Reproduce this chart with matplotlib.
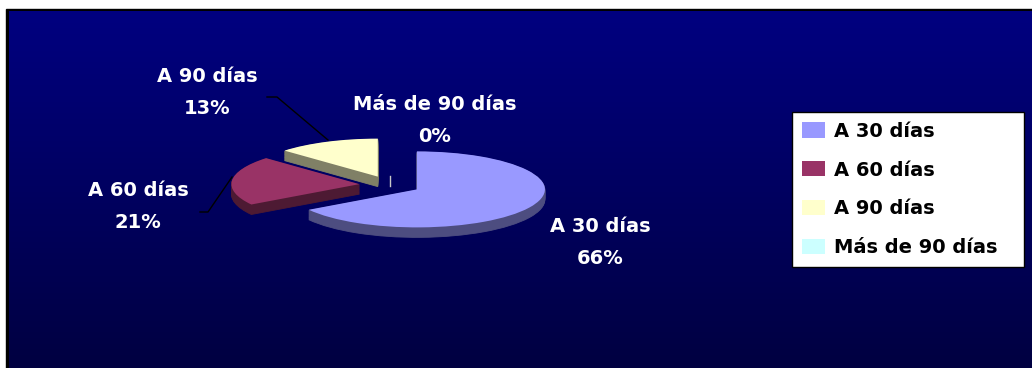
import numpy as np
import matplotlib.pyplot as plt
from matplotlib.colors import LinearSegmentedColormap, to_rgb
from matplotlib.patches import Rectangle

plt.rcParams['font.family'] = ['DejaVu Sans']

categories = ['A 30 días', 'A 60 días', 'A 90 días', 'Más de 90 días']
shares = [66, 21, 13, 0]
colors = ['#9999ff', '#993366', '#ffffcc', '#ccffff']

# label anchor points (pixels, y down): name line and percentage line
label_pos = [(600, 226), (138, 190), (207, 77), (435, 104)]

W, H = 1032, 368
fig = plt.figure(figsize=(W / 100, H / 100), dpi=100, facecolor='white')

# background panel drawn in pixel units
bg = fig.add_axes([0, 0, 1, 1])
bg.add_patch(Rectangle((6, 9), W + 10, H + 10, color='black', zorder=0))
navy = LinearSegmentedColormap.from_list('navy', ['#000080', '#00003f'])
grad = np.linspace(0, 1, 256)[:, None]
bg.imshow(grad, extent=(9, W + 10, H + 10, 11), aspect='auto', cmap=navy,
          zorder=1)
bg.set_xlim(0, W)
bg.set_ylim(H, 0)
bg.axis('off')

# tilted pie: unit circle squashed to an ellipse by the axis limits
cx, cy = 390, 185
rx, ry = 128, 38
half_w, half_h = 250, 120
ax = fig.add_axes([(cx - half_w) / W, (H - cy - half_h) / H,
                   2 * half_w / W, 2 * half_h / H])
explode = [0.24] * len(shares)
depth = 10 / ry

dark = [tuple(c * 0.5 for c in to_rgb(col)) for col in colors]
for k in np.linspace(depth, 0, 14)[:-1]:
    ax.pie(shares, explode=explode, startangle=90, counterclock=False,
           colors=dark, center=(0, -k), wedgeprops=dict(linewidth=0))
    for w, col, val in zip(ax.patches[-len(shares):], dark, shares):
        if val > 0:
            w.set_edgecolor(col)
            w.set_linewidth(0.6)

wedges, _ = ax.pie(shares, explode=explode, startangle=90, counterclock=False,
                   colors=colors, wedgeprops=dict(linewidth=0))

# the empty slice only shows its cut edge
ax.plot([0, 0], [explode[3], explode[3] - depth], color='#c8c8c8', lw=1)

ax.set_aspect('auto')
ax.set_xlim(-half_w / rx, half_w / rx)
ax.set_ylim(-half_h / ry, half_h / ry)
ax.axis('off')

# slice labels
for cat, val, (x, y) in zip(categories, shares, label_pos):
    bg.text(x, y, cat, color='white', fontsize=14, fontweight='bold',
            ha='center', va='center', zorder=5)
    bg.text(x, y + 32, f'{val}%', color='white', fontsize=14,
            fontweight='bold', ha='center', va='center', zorder=5)

# leader lines
bg.plot([267, 277, 328], [97, 97, 140], color='black', lw=1, zorder=4)
bg.plot([200, 208, 232], [212, 212, 177], color='black', lw=1, zorder=4)

leg = fig.legend(wedges, categories, loc='upper left',
                 bbox_to_anchor=(792 / W, 1 - 267 / H, 232 / W, 155 / H),
                 mode='expand', borderaxespad=0, frameon=True, fancybox=False,
                 framealpha=1, facecolor='white', edgecolor='black',
                 prop=dict(size=14, weight='bold'), handlelength=1.19,
                 handleheight=0.82, handletextpad=0.46, labelspacing=1.02,
                 borderpad=0.5)
leg.get_frame().set_linewidth(1)

fig.savefig('out.png', dpi=100, facecolor='white')
